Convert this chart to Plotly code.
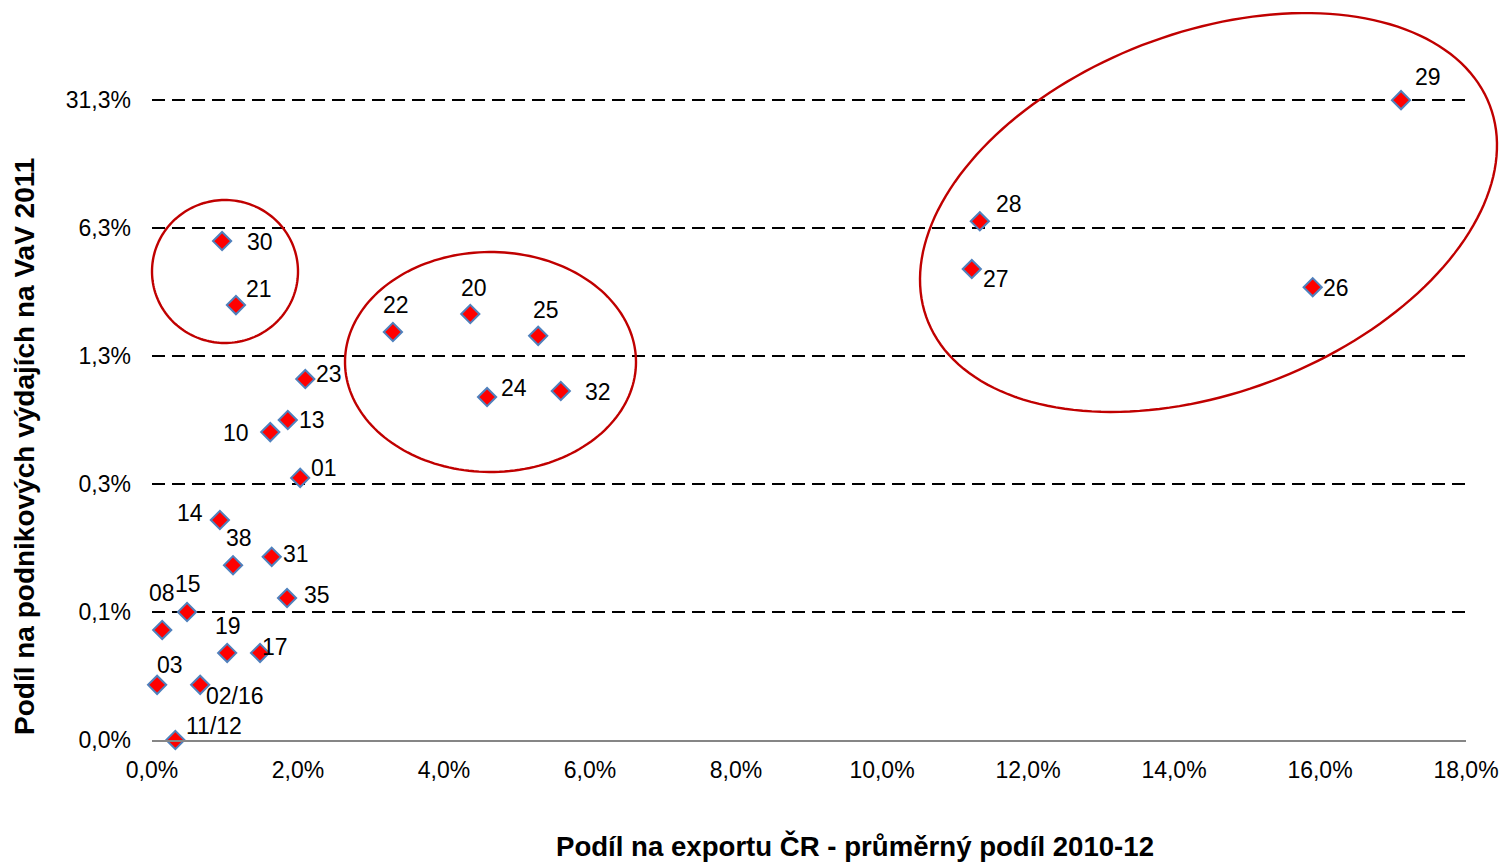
import numpy as np
import plotly.graph_objects as go

# Share of Czech exports (avg 2010-12) vs. share of business R&D spending 2011, by CZ-NACE division
codes = ["29", "28", "27", "26", "30", "21", "22", "20", "25", "24", "32", "23", "13",
         "10", "01", "14", "38", "31", "35", "15", "08", "19", "17", "03", "02/16", "11/12"]
export_share = [0.1711, 0.1134, 0.1123, 0.1590, 0.0096, 0.0115, 0.0330, 0.0436, 0.0529,
                0.0459, 0.0560, 0.0210, 0.0186, 0.0162, 0.0203, 0.0093, 0.0111, 0.0164,
                0.0185, 0.0048, 0.0014, 0.0103, 0.0148, 0.0007, 0.0066, 0.0032]
rd_share = [0.312, 0.068, 0.0373, 0.0297, 0.053, 0.0237, 0.0169, 0.0212, 0.0161,
            0.00746, 0.00805, 0.00935, 0.00559, 0.0048, 0.0027, 0.00159, 0.00090, 0.00100,
            0.000596, 0.0005, 0.000399, 0.000299, 0.000299, 0.0002, 0.0002, 0.0001]

# label offsets (pixels, right / up) relative to each marker
label_dx = [27, 29, 24, 23, 38, 23, 3, 4, 8, 27, 37, 24, 24,
            -34, 24, -30, 6, 24, 30, 1, 0, 1, 15, 13, 35, 39]
label_dy = [23, 17, -10, -1, -1, 16, 27, 26, 26, 9, -1, 5, 0,
            -1, 10, 7, 27, 3, 3, 28, 37, 27, 6, 20, -11, 14]

# log-5 style value axis
y_tickvals = [0.0001, 0.0005, 0.0025, 0.0125, 0.0625, 0.3125]
y_ticktext = ["0,0%", "0,1%", "0,3%", "1,3%", "6,3%", "31,3%"]
x_tickvals = [0.0, 0.02, 0.04, 0.06, 0.08, 0.10, 0.12, 0.14, 0.16, 0.18]

W, H = 1503, 863
ML, MR, MT, MB = 152, 37, 15, 123
PW, PH = W - ML - MR, H - MT - MB
px_per_factor5 = 128.0
y_lo = -4.0
y_hi = y_lo + PH / px_per_factor5 * np.log10(5)

FONT = "Liberation Sans, Arial, sans-serif"

fig = go.Figure()
fig.add_trace(go.Scatter(
    x=export_share, y=rd_share, mode="markers",
    marker=dict(symbol="diamond", size=14, color="#FF0000",
                line=dict(color="#4F81BD", width=2)),
    cliponaxis=False, showlegend=False, hoverinfo="skip",
))

for c, xv, yv, dx, dy in zip(codes, export_share, rd_share, label_dx, label_dy):
    fig.add_annotation(x=xv, y=np.log10(yv), text=c, showarrow=False,
                       xshift=dx, yshift=dy, xref="x", yref="y",
                       font=dict(family=FONT, size=23, color="black"))


# highlight ellipses, given in plot-area pixels: centre, semi-axes, tilt (deg)
def ellipse_path(cx, cy, a, b, tilt_deg, n=180):
    t = np.linspace(0, 2 * np.pi, n)
    th = np.radians(tilt_deg)
    ex = a * np.cos(t)
    ey = b * np.sin(t)
    px = cx + ex * np.cos(th) - ey * np.sin(th)
    py = cy - (ex * np.sin(th) + ey * np.cos(th))
    fx = px / PW
    fy = 1 - py / PH
    pts = [f"{x:.5f},{y:.5f}" for x, y in zip(fx, fy)]
    return "M " + " L ".join(pts) + " Z"


ellipses = [
    (73, 256.5, 73, 71.5, 0),
    (338.5, 347, 145.5, 110, 0),
    (1056.5, 197.5, 301, 180, 20.85),
]
for cx, cy, a, b, tilt in ellipses:
    fig.add_shape(type="path", path=ellipse_path(cx, cy, a, b, tilt),
                  xref="paper", yref="paper",
                  line=dict(color="#C00000", width=2.4), fillcolor="rgba(0,0,0,0)")

fig.add_annotation(text="<b>Podíl na exportu ČR - průměrný podíl 2010-12</b>",
                   xref="paper", yref="paper", x=(854.5 - ML) / PW, y=-(846 - (H - MB)) / PH,
                   xanchor="center", yanchor="middle", showarrow=False,
                   font=dict(family=FONT, size=27.6, color="black"))
fig.add_annotation(text="<b>Podíl na podnikových výdajích na VaV 2011</b>",
                   xref="paper", yref="paper", x=(25 - ML) / PW, y=((H - MB) - 447) / PH,
                   xanchor="center", yanchor="middle", textangle=-90, showarrow=False,
                   font=dict(family=FONT, size=28, color="black"))

fig.update_layout(
    width=W, height=H,
    margin=dict(l=ML, r=MR, t=MT, b=MB, pad=0, autoexpand=False),
    paper_bgcolor="white", plot_bgcolor="white",
    separators=", ",
    font=dict(family=FONT, size=23, color="black"),
    xaxis=dict(range=[0, 0.18], tickvals=x_tickvals, tickformat=".1%",
               showgrid=False, zeroline=False, showline=True, automargin=False,
               linecolor="#868686", linewidth=2, ticks="", ticklabelstandoff=8,
               tickfont=dict(family=FONT, size=23, color="black")),
    yaxis=dict(type="log", range=[y_lo, y_hi], tickvals=y_tickvals, ticktext=y_ticktext,
               showgrid=True, gridcolor="black", gridwidth=1.8, griddash="13px,7px",
               zeroline=False, showline=False, ticks="", ticklabelstandoff=20,
               automargin=False,
               tickfont=dict(family=FONT, size=23, color="black")),
)

fig.write_html("out.html")
